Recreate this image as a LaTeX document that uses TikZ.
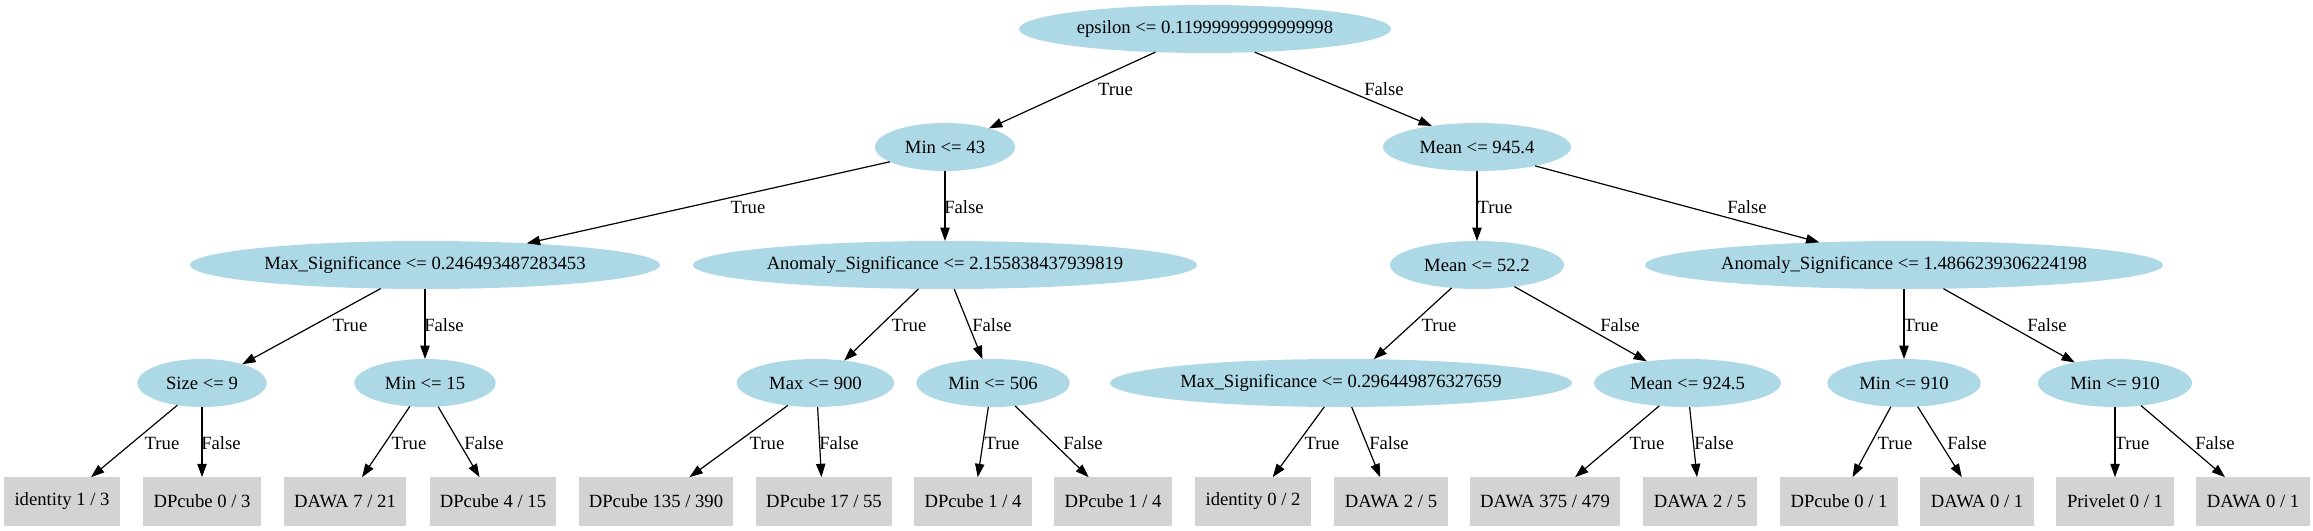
\documentclass[tikz,border=0pt]{standalone}
\usepackage{fontspec}
\setmainfont{Liberation Serif}
\usetikzlibrary{shapes.geometric,arrows.meta}
\definecolor{lb}{RGB}{173,216,230}
\definecolor{lg}{RGB}{211,211,211}
\newcommand\gvfont{\fontsize{14pt}{16pt}\selectfont}
\tikzset{
  dec/.style={ellipse, fill=lb, draw=none, minimum height=36pt, inner sep=0pt, outer sep=0pt, font=\gvfont},
  leaf/.style={rectangle, fill=lg, draw=none, minimum height=36.5pt, inner sep=0pt, outer sep=0pt, font=\gvfont},
  elab/.style={inner sep=0pt, font=\gvfont},
  conn/.style={draw, line width=0.9pt, -{Triangle[length=10pt,width=7pt]}}
}
\begin{document}
\begin{tikzpicture}[x=0.75pt,y=-0.75pt]
\useasboundingbox (0,0) rectangle (2313,531);
% decision nodes
\node[dec, minimum width=279pt] (root) at (1205,29) {epsilon <= 0.11999999999999998};
\node[dec, minimum width=105pt] (n1) at (945,147) {Min <= 43};
\node[dec, minimum width=141pt] (n2) at (1477,147) {Mean <= 945.4};
\node[dec, minimum width=352.5pt] (n3) at (425,265) {Max\_Significance <= 0.246493487283453};
\node[dec, minimum width=378pt] (n4) at (945,265) {Anomaly\_Significance <= 2.155838437939819};
\node[dec, minimum width=130.5pt] (n5) at (1477,265) {Mean <= 52.2};
\node[dec, minimum width=388.5pt] (n6) at (1904,265) {Anomaly\_Significance <= 1.4866239306224198};
\node[dec, minimum width=97pt] (n7) at (202,383) {Size <= 9};
\node[dec, minimum width=106pt] (n8) at (425,383) {Min <= 15};
\node[dec, minimum width=118pt] (n9) at (815.5,383) {Max <= 900};
\node[dec, minimum width=115pt] (n10) at (993,383) {Min <= 506};
\node[dec, minimum width=346.5pt] (n11) at (1341,383) {Max\_Significance <= 0.296449876327659};
\node[dec, minimum width=140pt] (n12) at (1687.5,383) {Mean <= 924.5};
\node[dec, minimum width=115pt] (n13) at (1904,383) {Min <= 910};
\node[dec, minimum width=115.5pt] (n14) at (2115,383) {Min <= 910};
% leaves
\node[leaf, minimum width=87pt] (l1) at (62,501.5) {identity 1 / 3};
\node[leaf, minimum width=88.5pt] (l2) at (202,501.5) {DPcube 0 / 3};
\node[leaf, minimum width=92pt] (l3) at (345,501.5) {DAWA 7 / 21};
\node[leaf, minimum width=95pt] (l4) at (493,501.5) {DPcube 4 / 15};
\node[leaf, minimum width=115.5pt] (l5) at (656,501.5) {DPcube 135 / 390};
\node[leaf, minimum width=102pt] (l6) at (824,501.5) {DPcube 17 / 55};
\node[leaf, minimum width=88.5pt] (l7) at (973,501.5) {DPcube 1 / 4};
\node[leaf, minimum width=88.5pt] (l8) at (1113,501.5) {DPcube 1 / 4};
\node[leaf, minimum width=87pt] (l9) at (1253,501.5) {identity 0 / 2};
\node[leaf, minimum width=85pt] (l10) at (1391,501.5) {DAWA 2 / 5};
\node[leaf, minimum width=112.5pt] (l11) at (1545,501.5) {DAWA 375 / 479};
\node[leaf, minimum width=85.5pt] (l12) at (1700,501.5) {DAWA 2 / 5};
\node[leaf, minimum width=88pt] (l13) at (1839,501.5) {DPcube 0 / 1};
\node[leaf, minimum width=85pt] (l14) at (1977,501.5) {DAWA 0 / 1};
\node[leaf, minimum width=88pt] (l15) at (2115,501.5) {Privelet 0 / 1};
\node[leaf, minimum width=85.5pt] (l16) at (2253,501.5) {DAWA 0 / 1};
% connectors
\draw[conn] (root.205.6) -- (n1.23.8);
\draw[conn] (root.335.6) -- (n2.155.9);
\draw[conn] (n1.195.7) -- (n3.12.8);
\draw[conn] (n1.south) -- (n4.north);
\draw[conn] (n2.south) -- (n5.north);
\draw[conn] (n2.342.8) -- (n6.165);
\draw[conn] (n3.208.6) -- (n7.25.7);
\draw[conn] (n3.south) -- (n8.north);
\draw[conn] (n4.222.7) -- (n9.38.9);
\draw[conn] (n4.291.8) -- (n10.114.4);
\draw[conn] (n5.222.6) -- (n11.36.6);
\draw[conn] (n5.330) -- (n12.152.5);
\draw[conn] (n6.south) -- (n13.north);
\draw[conn] (n6.329.7) -- (n14.153.4);
\draw[conn] (n7.222) -- (l1.40.6);
\draw[conn] (n7.south) -- (l2.north);
\draw[conn] (n8.237.1) -- (l3.55.6);
\draw[conn] (n8.299.2) -- (l4.119.7);
\draw[conn] (n9.219.1) -- (l5.36.6);
\draw[conn] (n9.275) -- (l6.96);
\draw[conn] (n10.259.8) -- (l7.79.4);
\draw[conn] (n10.314.6) -- (l8.135);
\draw[conn] (n11.235.8) -- (l9.51.5);
\draw[conn] (n11.294.6) -- (l10.114.6);
\draw[conn] (n12.219.9) -- (l11.39.4);
\draw[conn] (n12.275.9) -- (l12.97);
\draw[conn] (n13.241.6) -- (l13.61.3);
\draw[conn] (n13.300.3) -- (l14.122.3);
\draw[conn] (n14.south) -- (l15.north);
\draw[conn] (n14.319.8) -- (l16.139.8);
% edge labels
\node[elab] (e1) at (1115.5,89) {True};
\node[elab] (e2) at (1384,89) {False};
\node[elab] (e3) at (748,207) {True};
\node[elab] (e4) at (964,207) {False};
\node[elab] (e5) at (1495,207) {True};
\node[elab] (e6) at (1747,207) {False};
\node[elab] (e7) at (350,325) {True};
\node[elab] (e8) at (444,325) {False};
\node[elab] (e9) at (909,325) {True};
\node[elab] (e10) at (992,325) {False};
\node[elab] (e11) at (1439,325) {True};
\node[elab] (e12) at (1620,325) {False};
\node[elab] (e13) at (1921,325) {True};
\node[elab] (e14) at (2047,325) {False};
\node[elab] (e15) at (162,443) {True};
\node[elab] (e16) at (221,443) {False};
\node[elab] (e17) at (409,443) {True};
\node[elab] (e18) at (484,443) {False};
\node[elab] (e19) at (767,443) {True};
\node[elab] (e20) at (839,443) {False};
\node[elab] (e21) at (1002,443) {True};
\node[elab] (e22) at (1083,443) {False};
\node[elab] (e23) at (1322,443) {True};
\node[elab] (e24) at (1389,443) {False};
\node[elab] (e25) at (1647,443) {True};
\node[elab] (e26) at (1714,443) {False};
\node[elab] (e27) at (1895,443) {True};
\node[elab] (e28) at (1967,443) {False};
\node[elab] (e29) at (2132,443) {True};
\node[elab] (e30) at (2215,443) {False};
\end{tikzpicture}
\end{document}
